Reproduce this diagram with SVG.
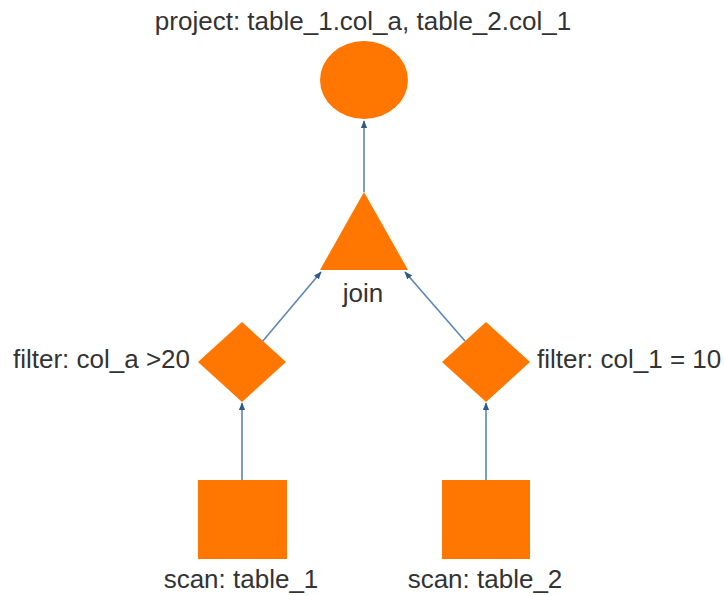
<svg xmlns="http://www.w3.org/2000/svg" width="724" height="596" viewBox="0 0 724 596">
<defs>
<style>
.shape{fill:#ff7700;}
.lbl{font-family:"Liberation Sans",Arial,sans-serif;font-size:26px;fill:#333333;}
.edge{stroke:#5b86b5;stroke-width:1.6;fill:none;marker-end:url(#arr);}
</style>
<marker id="arr" viewBox="0 0 10 10" refX="9" refY="5" markerWidth="8" markerHeight="8" markerUnits="userSpaceOnUse" orient="auto">
<path d="M0,1 L10,5 L0,9 Z" fill="#2f5a8a"/>
</marker>
</defs>
<rect width="724" height="596" fill="#ffffff"/>
<g id="connectors">
<line class="edge" x1="364" y1="192" x2="364" y2="121"/>
<line class="edge" x1="262" y1="342" x2="321" y2="272"/>
<line class="edge" x1="465" y1="341" x2="405" y2="272"/>
<line class="edge" x1="242" y1="480" x2="242" y2="403"/>
<line class="edge" x1="486" y1="480" x2="486" y2="403"/>
</g>
<g id="project">
<ellipse class="shape" cx="364" cy="80" rx="44" ry="39"/>
<text class="lbl" x="363" y="30" text-anchor="middle">project: table_1.col_a, table_2.col_1</text>
</g>
<g id="join">
<polygon class="shape" points="364,192 408,270 320,270"/>
<text class="lbl" x="363" y="302" text-anchor="middle">join</text>
</g>
<g id="filter1">
<polygon class="shape" points="242,322 286,362 242,402 198,362"/>
<text class="lbl" x="190" y="368" text-anchor="end">filter: col_a &gt;20</text>
</g>
<g id="filter2">
<polygon class="shape" points="486,322 530,362 486,402 442,362"/>
<text class="lbl" x="537" y="368">filter: col_1 = 10</text>
</g>
<g id="scan1">
<rect class="shape" x="198" y="480" width="89" height="79"/>
<text class="lbl" x="241" y="588" text-anchor="middle">scan: table_1</text>
</g>
<g id="scan2">
<rect class="shape" x="442" y="480" width="88" height="79"/>
<text class="lbl" x="485" y="588" text-anchor="middle">scan: table_2</text>
</g>
</svg>
